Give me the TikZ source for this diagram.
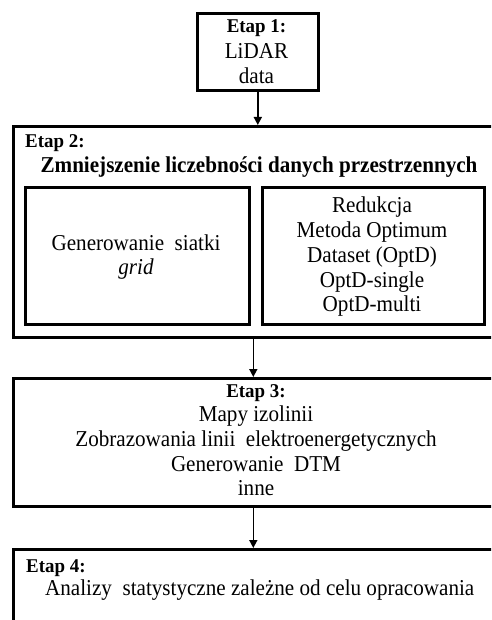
\documentclass[tikz,border=0pt]{standalone}
\usepackage{fontspec}
\setmainfont{Liberation Serif}[FakeStretch=0.93]
\newfontfamily\etapfont{Liberation Serif}[FakeStretch=0.97]
\usetikzlibrary{arrows.meta}
\begin{document}
\begin{tikzpicture}[x=1pt,y=-1pt,
 box/.style={draw,line width=2.6pt,inner sep=0pt,anchor=north west},
 txt/.style={font=\fontsize{22.7}{25}\selectfont,inner sep=0pt,anchor=base},
 lt/.style={txt,anchor=base west},
 etap/.style={font=\etapfont\fontsize{19.5}{25}\selectfont\bfseries},
 arr/.style={line width=1.6pt,-{Triangle[length=8pt,width=8pt]}}]
\useasboundingbox (0,0) rectangle (491,620);
\clip (0,0) rectangle (491,620);
% boxes
\node[box,minimum width=121pt,minimum height=77pt] (b1) at (196,12) {};
\node[box,minimum width=480pt,minimum height=211pt] (b2) at (12,125) {};
\node[box,minimum width=224pt,minimum height=137pt] (b2l) at (24,186) {};
\node[box,minimum width=222pt,minimum height=137pt] (b2r) at (261,186) {};
\node[box,minimum width=480pt,minimum height=128pt] (b3) at (12,377) {};
\node[box,minimum width=480pt,minimum height=100pt] (b4) at (12,548) {};
% stage 1
\node[txt,etap] (t1a) at (256.5,32.5) {Etap 1:};
\node[txt] (t1b) at (256.5,59) {LiDAR};
\node[txt] (t1c) at (256.5,83.5) {data};
% stage 2
\node[lt,etap] (t2a) at (25,148) {Etap 2:};
\node[txt] (t2b) at (259,173) {\textbf{Zmniejszenie liczebności danych przestrzennych}};
\node[txt] (t2l1) at (136,250) {Generowanie\ \ siatki};
\node[txt] (t2l2) at (136,274) {\textit{grid}};
\node[txt] (t2r1) at (372,212) {Redukcja};
\node[txt] (t2r2) at (372,237) {Metoda Optimum};
\node[txt] (t2r3) at (372,262) {Dataset (OptD)};
\node[txt] (t2r4) at (372,287) {OptD-single};
\node[txt] (t2r5) at (372,311) {OptD-multi};
% stage 3
\node[txt,etap] (t3a) at (256,397) {Etap 3:};
\node[txt] (t3b) at (256,421) {Mapy izolinii};
\node[txt] (t3c) at (256,446) {Zobrazowania linii\ \ elektroenergetycznych};
\node[txt] (t3d) at (256,471) {Generowanie\ \ DTM};
\node[txt] (t3e) at (256,495) {inne};
% stage 4
\node[lt,etap] (t4a) at (26,572) {Etap 4:};
\node[lt] (t4b) at (45,595) {Analizy\ \ statystyczne zależne\ od celu\ opracowania};
% arrows
\draw[arr] (b1.south) -- (b1.south |- b2.north);
\draw[arr] (b2.south) -- (b3.north);
\draw[arr] (b3.south) -- (b4.north);
\end{tikzpicture}
\end{document}
